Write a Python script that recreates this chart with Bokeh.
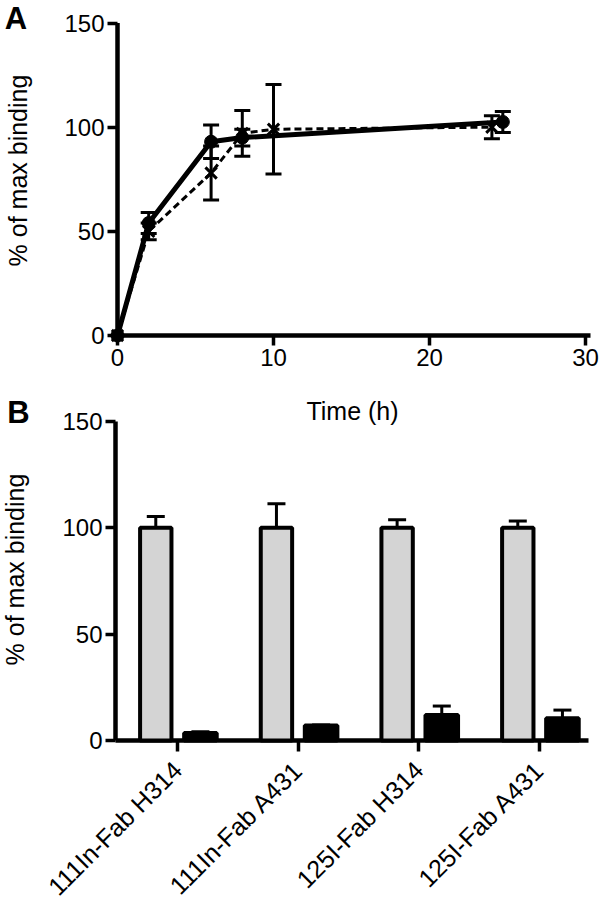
import numpy as np
from math import pi
from bokeh.plotting import figure
from bokeh.models import ColumnDataSource, Range1d, Whisker, TeeHead, Label
from bokeh.layouts import column
from bokeh.transform import dodge
from bokeh.embed import file_html
from bokeh.resources import INLINE

# ---------------- Panel A data ----------------
time_solid = [0, 2, 6, 8, 24.7]
bind_solid = [0, 54, 93, 95, 102.5]
err_solid = [0, 5, 8, 4, 5]

time_dashed = [0, 2, 6, 8, 10, 24]
bind_dashed = [0, 50, 78, 97, 99, 100]
err_dashed = [0, 4, 13, 11, 21.5, 5.5]

time_ticks = [0, 10, 20, 30]
pct_ticks = [0, 50, 100, 150]

# ---------------- Panel B data ----------------
categories = ["111In-Fab H314", "111In-Fab A431", "125I-Fab H314", "125I-Fab A431"]
total_binding = [100, 100, 100, 100]
total_err = [5.3, 11.3, 3.8, 3.2]
blocked_binding = [3.5, 7, 12, 10.5]
blocked_err = [0.6, 0.3, 4.2, 3.8]

FONT = "Liberation Sans"
BLACK = "#000000"
W = 600

# ---------------- layout geometry (pixels) ----------------
HA, HB = 396, 511
A_X0, A_PXX = 117, 15.6          # px of t=0, px per hour
A_Y0, A_PXY = 335, 312.5 / 150   # px of 0 %, px per %
B_X0, B_PXX = 177, 120.67        # px of first category, px per category
B_Y0, B_PXY = 344, 319 / 150     # (canvas coords of panel B)


def ax(px):
    return (px - A_X0) / A_PXX


def ay(py):
    return (A_Y0 - py) / A_PXY


def bx(px):
    return (px - B_X0) / B_PXX


def by(py):
    return (B_Y0 - (py - HA)) / B_PXY


def style(p):
    p.outline_line_color = None
    p.xgrid.grid_line_color = None
    p.ygrid.grid_line_color = None
    p.background_fill_color = "white"
    p.border_fill_color = "white"
    for a in (p.xaxis, p.yaxis):
        a.major_label_text_font = FONT
        a.major_label_text_font_size = "24px"
        a.major_label_text_color = BLACK
        a.major_tick_line_width = 3.5
        a.major_tick_line_color = BLACK
        a.major_tick_out = 10
        a.major_tick_in = 0
        a.minor_tick_line_color = None
        a.axis_line_color = None
        a.major_label_standoff = 3


def lab(p, x, y, text, size, bold=False, angle=0):
    p.add_layout(Label(x=x, y=y, text=text, angle=angle, text_align="center",
                       text_baseline="middle", text_font=FONT, text_font_size=size,
                       text_font_style="bold" if bold else "normal", text_color=BLACK))


# ---------------- Panel A ----------------
pA = figure(width=W, height=HA, x_range=Range1d(ax(0), ax(W)), y_range=Range1d(ay(HA), ay(0)),
            output_backend="svg", toolbar_location=None,
            min_border_left=0, min_border_right=0, min_border_top=0, min_border_bottom=0)
style(pA)
pA.xaxis.fixed_location = 0
pA.yaxis.fixed_location = 0
pA.xaxis.ticker = time_ticks
pA.yaxis.ticker = pct_ticks

pA.segment(x0=[0, 0], y0=[0, 0], x1=[ax(590), 0], y1=[0, pct_ticks[-1]],
           line_width=4.5, line_color=BLACK)

src_s = ColumnDataSource(dict(t=time_solid, y=bind_solid,
                              lo=np.array(bind_solid) - np.array(err_solid),
                              hi=np.array(bind_solid) + np.array(err_solid)))
src_d = ColumnDataSource(dict(t=time_dashed, y=bind_dashed,
                              lo=np.array(bind_dashed) - np.array(err_dashed),
                              hi=np.array(bind_dashed) + np.array(err_dashed)))

pA.line("t", "y", source=src_d, line_width=3, line_dash="7 4", line_color=BLACK)
pA.line("t", "y", source=src_s, line_width=5, line_color=BLACK)
for src in (src_s, src_d):
    pA.add_layout(Whisker(source=src, base="t", upper="hi", lower="lo", dimension="height",
                          line_width=3, line_color=BLACK,
                          upper_head=TeeHead(size=16, line_width=3, line_color=BLACK),
                          lower_head=TeeHead(size=16, line_width=3, line_color=BLACK)))
pA.scatter("t", "y", source=src_d, marker="x", size=16, line_width=3, line_color=BLACK)
pA.scatter("t", "y", source=src_s, marker="circle", size=13, fill_color=BLACK, line_color=BLACK)

lab(pA, ax(15.5), ay(18), "A", "31px", bold=True)
lab(pA, ax(17.5), ay(170), "% of max binding", "25px", angle=pi / 2)

# ---------------- Panel B ----------------
pB = figure(width=W, height=HB, x_range=Range1d(bx(0), bx(W)),
            y_range=Range1d(by(HA + HB), by(HA)),
            output_backend="svg", toolbar_location=None,
            min_border_left=0, min_border_right=0, min_border_top=0, min_border_bottom=0)
style(pB)
pB.xaxis.fixed_location = 0
pB.yaxis.fixed_location = bx(115)
pB.yaxis.ticker = pct_ticks
pB.xaxis.ticker = list(range(len(categories)))
pB.xaxis.major_label_overrides = {i: c for i, c in enumerate(categories)}
pB.xaxis.major_label_orientation = pi / 4
pB.xaxis.major_label_text_font_size = "25px"
pB.xaxis.major_tick_out = 11
pB.xaxis.major_label_standoff = 14

pB.segment(x0=[bx(115), bx(115)], y0=[0, 0], x1=[bx(588), bx(115)], y1=[0, pct_ticks[-1]],
           line_width=4.5, line_color=BLACK)

srcB = ColumnDataSource(dict(
    x=list(range(len(categories))),
    total=total_binding,
    total_hi=np.array(total_binding) + np.array(total_err),
    blocked=blocked_binding,
    blocked_hi=np.array(blocked_binding) + np.array(blocked_err),
))

pB.vbar(x=dodge("x", -0.18), top="total", bottom=0, width=0.26, source=srcB,
        fill_color="#d4d4d4", line_color=BLACK, line_width=4)
pB.vbar(x=dodge("x", 0.19), top="blocked", bottom=0, width=0.27, source=srcB,
        fill_color=BLACK, line_color=BLACK, line_width=4)
pB.add_layout(Whisker(source=srcB, base=dodge("x", -0.18), upper="total_hi", lower="total",
                      dimension="height", line_width=3, line_color=BLACK,
                      upper_head=TeeHead(size=18, line_width=3, line_color=BLACK),
                      lower_head=None))
pB.add_layout(Whisker(source=srcB, base=dodge("x", 0.19), upper="blocked_hi", lower="blocked",
                      dimension="height", line_width=3, line_color=BLACK,
                      upper_head=TeeHead(size=18, line_width=3, line_color=BLACK),
                      lower_head=None))

lab(pB, bx(352), by(410), "Time (h)", "25px")
lab(pB, bx(18), by(412), "B", "31px", bold=True)
lab(pB, bx(14), by(569), "% of max binding", "25px", angle=pi / 2)

layout = column(pA, pB, spacing=0)
open("out.html", "w").write(file_html(layout, INLINE))
